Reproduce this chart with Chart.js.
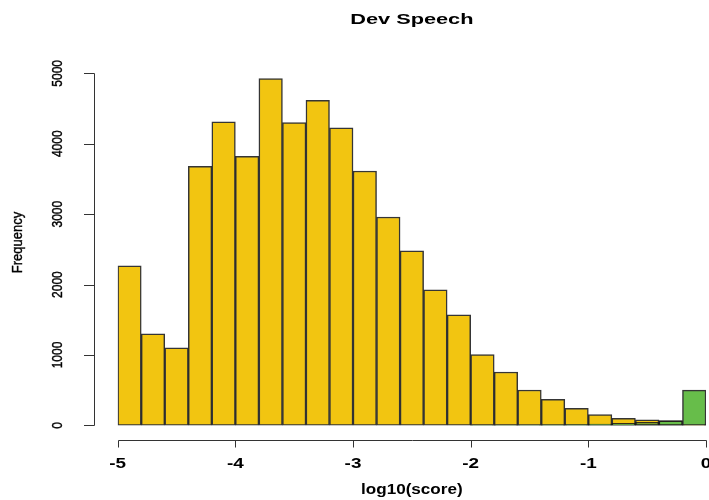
<!DOCTYPE html>
<html>
<head>
<meta charset="utf-8">
<script src="https://cdn.jsdelivr.net/npm/chart.js@4"></script>
<style>
html,body{margin:0;padding:0;background:#fff;}
canvas{display:block;}
</style>
</head>
<body>
<canvas id="c" width="709" height="500"></canvas>
<script>
const titleText = "Dev Speech";
const xLabel = "log10(score)";
const yLabel = "Frequency";
const binCenters = [-4.9,-4.7,-4.5,-4.3,-4.1,-3.9,-3.7,-3.5,-3.3,-3.1,-2.9,-2.7,-2.5,-2.3,-2.1,-1.9,-1.7,-1.5,-1.3,-1.1,-0.9,-0.7,-0.5,-0.3,-0.1];
const yellowCounts = [2265,1300,1100,3680,4310,3820,4925,4300,4615,4225,3612,2960,2478,1925,1570,1005,758,503,370,243,155,101,78,70,10];
const greenCounts  = [0,0,0,0,0,0,0,0,0,0,0,0,0,0,0,4,5,6,8,10,17,31,45,66,502];
const xTicks = [-5,-4,-3,-2,-1,0];
const xTickLabels = ["-5","-4","-3","-2","-1","0"];
const yTicks = [0,1000,2000,3000,4000,5000];
const yTickLabels = ["0","1000","2000","3000","4000","5000"];

const toPts = arr => arr.map((v,i)=>({x:binCenters[i], y:v}));

function stretchText(ctx, t, x, y, sx){
  ctx.save(); ctx.translate(x,y); ctx.scale(sx,1); ctx.fillText(t,0,0); ctx.restore();
}
function rotText(ctx, t, x, y, sy){
  ctx.save(); ctx.translate(x,y); ctx.rotate(-Math.PI/2); ctx.scale(1,sy);
  ctx.fillText(t,0,0); ctx.lineWidth=0.35; ctx.strokeStyle='#000'; ctx.strokeText(t,0,0); ctx.restore();
}

const rAxes = {
  id:'rAxes',
  afterDraw(chart){
    const ctx = chart.ctx, xs = chart.scales.x, ys = chart.scales.y;
    ctx.save();
    ctx.strokeStyle = '#333'; ctx.lineWidth = 1; ctx.fillStyle = '#000';
    // y axis
    const ax = 94.5;
    ctx.beginPath();
    ctx.moveTo(ax, Math.round(ys.getPixelForValue(yTicks[0]))+0.5);
    ctx.lineTo(ax, Math.round(ys.getPixelForValue(yTicks[yTicks.length-1]))+0.5);
    yTicks.forEach(v=>{ const p=Math.round(ys.getPixelForValue(v))+0.5; ctx.moveTo(ax,p); ctx.lineTo(84,p); });
    ctx.stroke();
    ctx.font = '12px "Liberation Sans", Arial, sans-serif';
    ctx.textAlign='center'; ctx.textBaseline='middle';
    yTicks.forEach((v,i)=>{ rotText(ctx, yTickLabels[i], 58.5, ys.getPixelForValue(v), 1.18); });
    // x axis
    const ay = 440.5;
    ctx.beginPath();
    ctx.strokeStyle = '#333'; ctx.lineWidth = 1;
    ctx.moveTo(Math.round(xs.getPixelForValue(xTicks[0]))+0.5, ay);
    ctx.lineTo(Math.round(xs.getPixelForValue(xTicks[xTicks.length-1]))+0.5, ay);
    xTicks.forEach(v=>{ const p=Math.round(xs.getPixelForValue(v))+0.5; ctx.moveTo(p,ay); ctx.lineTo(p,447.5); });
    ctx.stroke();
    ctx.font = 'bold 14px "Liberation Sans", Arial, sans-serif';
    xTicks.forEach((v,i)=>{ stretchText(ctx, xTickLabels[i], xs.getPixelForValue(v), 464, 1.35); });
    // title
    const cx = (chart.chartArea.left + chart.chartArea.right)/2;
    ctx.font = 'bold 15px "Liberation Sans", Arial, sans-serif';
    stretchText(ctx, titleText, cx, 20, 1.45);
    ctx.font = 'bold 14px "Liberation Sans", Arial, sans-serif';
    stretchText(ctx, xLabel, cx, 490, 1.22);
    ctx.font = '13px "Liberation Sans", Arial, sans-serif';
    rotText(ctx, yLabel, 18, 242.5, 1.12);
    ctx.restore();
  }
};

new Chart(document.getElementById('c'), {
  type:'bar',
  data:{
    datasets:[
      {label:'green', data:toPts(greenCounts), backgroundColor:'rgb(103,189,74)', borderColor:'rgba(25,25,25,0.88)', borderWidth:1.5, borderSkipped:false, grouped:false, barPercentage:1, categoryPercentage:1},
      {label:'yellow', data:toPts(yellowCounts), backgroundColor:'rgb(242,197,17)', borderColor:'rgba(25,25,25,0.88)', borderWidth:1.5, borderSkipped:false, grouped:false, barPercentage:1, categoryPercentage:1}
    ]
  },
  options:{
    responsive:false, animation:false,
    layout:{padding:{left:117.7, right:3, top:73.3, bottom:74.6}},
    plugins:{legend:{display:false}, tooltip:{enabled:false}, title:{display:false}},
    scales:{
      x:{type:'linear', min:-5, max:0, offset:false, display:false},
      y:{type:'linear', min:0, max:5000, display:false}
    }
  },
  plugins:[rAxes]
});
</script>
</body>
</html>
